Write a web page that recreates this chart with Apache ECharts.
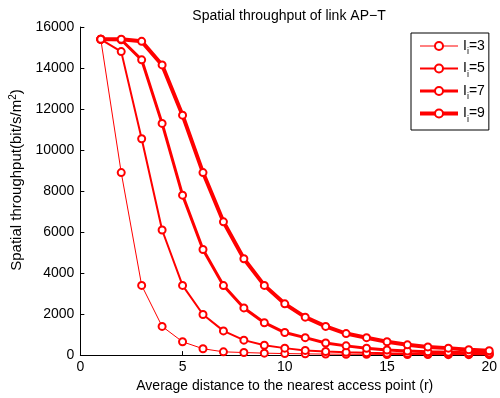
<!DOCTYPE html>
<html><head><meta charset="utf-8">
<script src="https://cdn.jsdelivr.net/npm/echarts@6/dist/echarts.min.js"></script>
<style>html,body{margin:0;padding:0;background:#fff}#c{width:500px;height:398px}</style>
</head><body><div id="c"></div>
<script>
const xValues = [1,2,3,4,5,6,7,8,9,10,11,12,13,14,15,16,17,18,19,20];
const seriesNames = ['3','5','7','9'];
const ii3 = [15400,8900,3400,1400,650,310,160,125,95,75,60,50,42,36,32,28,25,23,21,20];
const ii5 = [15400,14800,10550,6100,3400,1980,1180,730,480,340,230,175,140,115,95,80,70,60,52,45];
const ii7 = [15400,15380,14400,11300,7800,5150,3390,2300,1580,1100,850,590,450,335,250,195,160,140,120,105];
const ii9 = [15400,15400,15300,14150,11700,8900,6500,4700,3400,2500,1850,1400,1050,850,650,500,400,340,260,210];
const xTicks = [0,5,10,15,20];
const yTicks = [0,2000,4000,6000,8000,10000,12000,14000,16000];
const lineWidths = [1,2,3,4];
const allData = [ii3, ii5, ii7, ii9];

const chart = echarts.init(document.getElementById('c'), null, {renderer:'canvas'});
const font = 'Liberation Sans, Arial, Helvetica, sans-serif';
chart.setOption({
  animation:false,
  backgroundColor:'#fff',
  textStyle:{fontFamily:font},
  title:{text:'Spatial throughput of link AP\u2212T', left:284, textAlign:'center', top:4,
    textStyle:{fontSize:14, fontWeight:'normal', color:'#000', fontFamily:font}},
  grid:{left:77.5, right:8.5, top:27, bottom:42, containLabel:false},
  legend:{orient:'vertical', left:411, top:33, padding:[6,4,6,7], itemGap:5,
    itemWidth:38, itemHeight:10, borderColor:'#000', borderWidth:1, backgroundColor:'#fff',
    data:seriesNames.map((n,i)=>({name:'I'+n,
      lineStyle:{color:'#ff0000', width:lineWidths[i]},
      itemStyle:{color:'#ff0000', borderColor:'#ff0000', borderWidth:lineWidths[i]}})),
    formatter: name => '{a|I}{b|i}{a|=' + name.slice(1) + '}',
    textStyle:{color:'#000', fontFamily:font,
      rich:{a:{fontSize:14, color:'#000', fontFamily:font}, b:{fontSize:9, color:'#000', padding:[12,0,0,0], fontFamily:font}}}
  },
  xAxis:{type:'value', min:0, max:20, interval:5,
    name:'Average distance to the nearest access point (r)', nameLocation:'middle', nameGap:22,
    nameTextStyle:{fontSize:14, color:'#000', fontFamily:font},
    axisLine:{lineStyle:{color:'#000', width:1}},
    axisTick:{inside:true, length:4, lineStyle:{color:'#000'}},
    axisLabel:{fontSize:14, color:'#000', margin:5, fontFamily:font},
    splitLine:{show:false}},
  yAxis:{type:'value', min:0, max:16000, interval:2000,
    name:'Spatial throughput(bit/s/m{sup|2})', nameLocation:'middle', nameGap:50, nameRotate:90,
    nameTextStyle:{fontSize:15, color:'#000', fontFamily:font, padding:[0,0,0,22],
      rich:{sup:{fontSize:10, color:'#000', padding:[0,0,8,0], fontFamily:font}}},
    axisLine:{show:true, lineStyle:{color:'#000', width:1}},
    axisTick:{show:true, inside:true, length:4, lineStyle:{color:'#000'}},
    axisLabel:{fontSize:14, color:'#000', margin:6, fontFamily:font, formatter:v=>String(v)},
    splitLine:{show:false}},
  series: allData.map((d,i)=>({
    name:'I'+seriesNames[i], type:'line',
    data:xValues.map((x,k)=>[x,d[k]]),
    symbol:'emptyCircle', symbolSize:7, showSymbol:true,
    lineStyle:{color:'#ff0000', width:lineWidths[i]},
    itemStyle:{color:'#ff0000', borderColor:'#ff0000', borderWidth:lineWidths[i]},
    clip:false, z:2+i
  }))
});
</script></body></html>
